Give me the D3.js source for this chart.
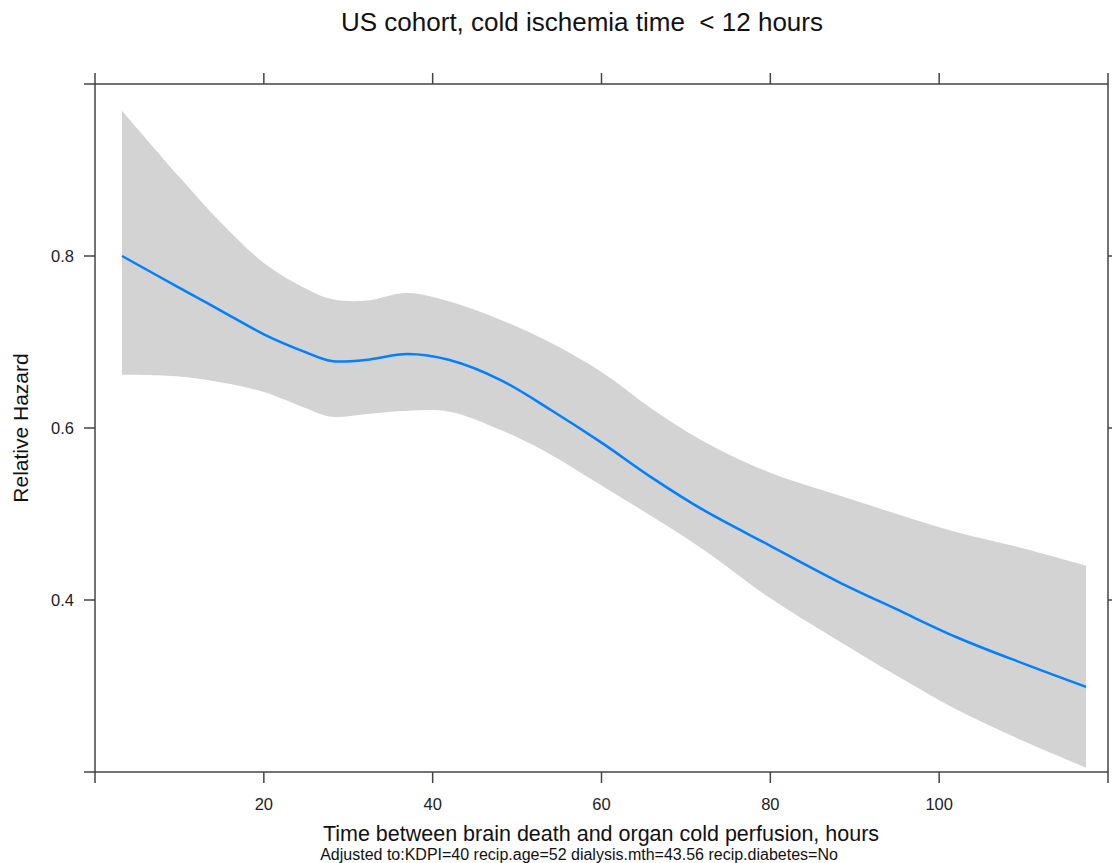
<!DOCTYPE html>
<html>
<head>
<meta charset="utf-8">
<script src="https://cdn.jsdelivr.net/npm/d3@7"></script>
<style>
  body { margin: 0; background: #fff; }
  svg { display: block; font-family: "Liberation Sans", Arial, sans-serif; }
</style>
</head>
<body>
<svg id="chart" width="1112" height="863"></svg>
<script>
// ---- data ----
const hours = [3.2, 10, 15, 20, 25, 28, 32, 37, 42, 48, 54, 60, 66, 72, 80, 88, 95, 102, 110, 117.4];
const hazard = [0.800, 0.763, 0.736, 0.709, 0.688, 0.678, 0.679, 0.686, 0.679, 0.656, 0.621, 0.583, 0.542, 0.505, 0.463, 0.4215, 0.389, 0.357, 0.326, 0.299];
const upper  = [0.969, 0.892, 0.838, 0.792, 0.762, 0.750, 0.748, 0.757, 0.747, 0.726, 0.699, 0.665, 0.622, 0.585, 0.548, 0.522, 0.500, 0.479, 0.460, 0.440];
const lower  = [0.662, 0.660, 0.653, 0.642, 0.623, 0.613, 0.616, 0.620, 0.619, 0.598, 0.569, 0.533, 0.497, 0.459, 0.402, 0.353, 0.312, 0.273, 0.236, 0.205];

const xTicks = [0, 20, 40, 60, 80, 100, 120];
const xTickLabels = [20, 40, 60, 80, 100];
const yTicks = [0.2, 0.4, 0.6, 0.8, 1.0];
const yTickLabels = [0.4, 0.6, 0.8];

const title = "US cohort, cold ischemia time  < 12 hours";
const xTitle = "Time between brain death and organ cold perfusion, hours";
const yTitle = "Relative Hazard";
const footnote = "Adjusted to:KDPI=40 recip.age=52 dialysis.mth=43.56 recip.diabetes=No";

// ---- layout ----
const svg = d3.select("#chart");
const L = 95, R = 1108, T = 84, B = 772;
const x = d3.scaleLinear().domain([0, 120]).range([L, R]);
const y = d3.scaleLinear().domain([0.2, 1.0]).range([B, T]);

const rows = hours.map((h, i) => ({h, v: hazard[i], lo: lower[i], hi: upper[i]}));
const curve = d3.curveCatmullRom.alpha(0.5);

// band
svg.append("path")
  .datum(rows)
  .attr("fill", "#d3d3d3")
  .attr("d", d3.area().x(d => x(d.h)).y0(d => y(d.lo)).y1(d => y(d.hi)).curve(curve));

// line
svg.append("path")
  .datum(rows)
  .attr("fill", "none")
  .attr("stroke", "#0080ff")
  .attr("stroke-width", 2.5)
  .attr("d", d3.line().x(d => x(d.h)).y(d => y(d.v)).curve(curve));

// frame
svg.append("rect")
  .attr("x", L).attr("y", T).attr("width", R - L).attr("height", B - T)
  .attr("fill", "none").attr("stroke", "#444").attr("stroke-width", 1.5);

const tickColor = "#444";
const tl = 11;
const fmt = d => String(d);

// bottom axis
const bAxis = svg.append("g");
bAxis.selectAll("line").data(xTicks).enter().append("line")
  .attr("x1", d => x(d)).attr("x2", d => x(d)).attr("y1", B).attr("y2", B + tl)
  .attr("stroke", tickColor).attr("stroke-width", 1.5);
bAxis.selectAll("text").data(xTickLabels).enter().append("text")
  .attr("x", d => x(d)).attr("y", B + 38).attr("text-anchor", "middle")
  .attr("font-size", 16.5).attr("fill", "#222").text(fmt);

// top axis ticks
svg.append("g").selectAll("line").data(xTicks).enter().append("line")
  .attr("x1", d => x(d)).attr("x2", d => x(d)).attr("y1", T).attr("y2", T - tl)
  .attr("stroke", tickColor).attr("stroke-width", 1.5);

// left axis
const lAxis = svg.append("g");
lAxis.selectAll("line").data(yTicks).enter().append("line")
  .attr("x1", L - tl).attr("x2", L).attr("y1", d => y(d)).attr("y2", d => y(d))
  .attr("stroke", tickColor).attr("stroke-width", 1.5);
lAxis.selectAll("text").data(yTickLabels).enter().append("text")
  .attr("x", L - 21).attr("y", d => y(d)).attr("dy", "0.35em").attr("text-anchor", "end")
  .attr("font-size", 16.5).attr("fill", "#222").text(fmt);

// right axis ticks
svg.append("g").selectAll("line").data(yTickLabels).enter().append("line")
  .attr("x1", R).attr("x2", R + tl).attr("y1", d => y(d)).attr("y2", d => y(d))
  .attr("stroke", tickColor).attr("stroke-width", 1.5);

// titles
svg.append("text")
  .attr("x", 582).attr("y", 31).attr("text-anchor", "middle")
  .attr("font-size", 26).attr("fill", "#111").style("white-space", "pre")
  .text(title);

svg.append("text")
  .attr("x", 601).attr("y", 841).attr("text-anchor", "middle")
  .attr("font-size", 21.5).attr("fill", "#111").text(xTitle);

svg.append("text")
  .attr("x", 579).attr("y", 860).attr("text-anchor", "middle")
  .attr("font-size", 16).attr("fill", "#111").text(footnote);

svg.append("text")
  .attr("transform", `translate(28, ${(T + B) / 2}) rotate(-90)`)
  .attr("text-anchor", "middle")
  .attr("font-size", 21).attr("fill", "#111").text(yTitle);
</script>
</body>
</html>
